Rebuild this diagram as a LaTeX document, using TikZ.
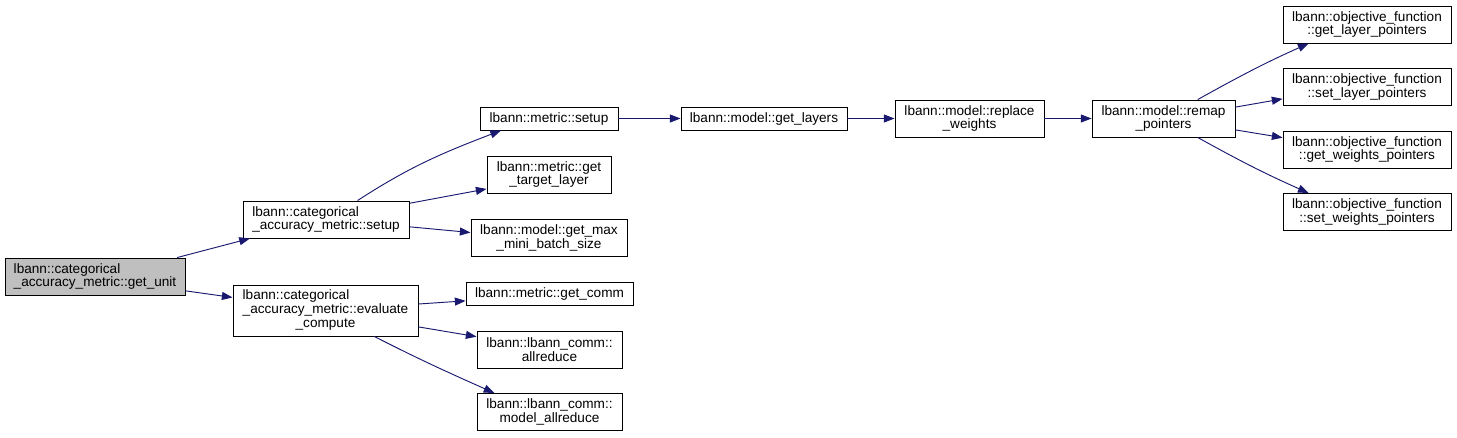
\documentclass[tikz,border=0pt]{standalone}
\usepackage{fontspec}
\setmainfont{Liberation Sans}
\usetikzlibrary{arrows.meta}
\definecolor{edgeblue}{HTML}{191970}
\definecolor{hilite}{HTML}{BFBFBF}

\begin{document}
\begin{tikzpicture}[x=0.75pt, y=-0.75pt, >={Triangle[length=8pt,width=6pt]},
  fn/.style={draw, fill=white, line width=0.7pt, inner sep=0pt, align=center,
    font=\fontsize{10.2}{10.3}\selectfont},
  boxw/.style={minimum width=#1*0.75pt},
  oneline/.style={minimum height=23*0.75pt},
  twoline/.style={minimum height=37*0.75pt},
  threeline/.style={minimum height=51*0.75pt},
  call/.style={->, edgeblue, line width=0.7pt}]
  \useasboundingbox (0,0) rectangle (1457,437);
  % caller and its two callees
  \node[fn, boxw=180, twoline, fill=hilite, align=left] (getunit) at (95,276.5) {lbann::categorical\\\_accuracy\_metric::get\_unit};
  \node[fn, boxw=166, twoline, align=left] (csetup) at (326,219.5) {lbann::categorical\\\_accuracy\_metric::setup};
  \node[fn, boxw=185, threeline] (evalc) at (325.5,310.5) {\begin{tabular}{@{}l@{}}lbann::categorical\\\_accuracy\_metric::evaluate\\\multicolumn{1}{@{}c@{}}{\_compute}\end{tabular}};
  % third column
  \node[fn, boxw=138, oneline] (msetup) at (549,118.5) {lbann::metric::setup};
  \node[fn, boxw=124, twoline] (target) at (549,174.5) {lbann::metric::get\\\_target\_layer};
  \node[fn, boxw=156, twoline] (maxbatch) at (549,238) {lbann::model::get\_max\\\_mini\_batch\_size};
  \node[fn, boxw=167, oneline] (getcomm) at (549.5,293.5) {lbann::metric::get\_comm};
  \node[fn, boxw=145, twoline] (allred) at (549.5,349.5) {lbann::lbann\_comm::\\allreduce};
  \node[fn, boxw=145, twoline] (mallred) at (549.5,412) {lbann::lbann\_comm::\\model\_allreduce};
  % model chain
  \node[fn, boxw=166, oneline] (getlayers) at (764,118.5) {lbann::model::get\_layers};
  \node[fn, boxw=149, twoline] (replace) at (969.5,118.5) {lbann::model::replace\\\_weights};
  \node[fn, boxw=143, twoline] (remap) at (1163.5,118.5) {lbann::model::remap\\\_pointers};
  % objective function
  \node[fn, boxw=168, twoline] (objglp) at (1367,24.5) {lbann::objective\_function\\::get\_layer\_pointers};
  \node[fn, boxw=168, twoline] (objslp) at (1367,87) {lbann::objective\_function\\::set\_layer\_pointers};
  \node[fn, boxw=168, twoline] (objgwp) at (1367,149.5) {lbann::objective\_function\\::get\_weights\_pointers};
  \node[fn, boxw=168, twoline] (objswp) at (1367,212) {lbann::objective\_function\\::set\_weights\_pointers};

  \draw[call] (getunit.13) -- (csetup.194);
  \draw[call] (getunit.351.5) -- (evalc.172);
  \draw[call] (csetup.31) to[out=33,in=201] (msetup.194);
  \draw[call] (csetup.11) -- (target.193);
  \draw[call] (csetup.355) -- (maxbatch.176);
  \draw[call] (evalc.4) -- (getcomm.185);
  \draw[call] (evalc.350) -- (allred.170);
  \draw[call] (evalc.332) to[out=333,in=156] (mallred.161);
  \draw[call] (msetup) -- (getlayers);
  \draw[call] (getlayers) -- (replace);
  \draw[call] (replace) -- (remap);
  \draw[call] (remap.29) to[out=29,in=204] (objglp.198);
  \draw[call] (remap.9) -- (objslp.188);
  \draw[call] (remap.351) -- (objgwp.172);
  \draw[call] (remap.331) to[out=331,in=156] (objswp.162);
\end{tikzpicture}
\end{document}
